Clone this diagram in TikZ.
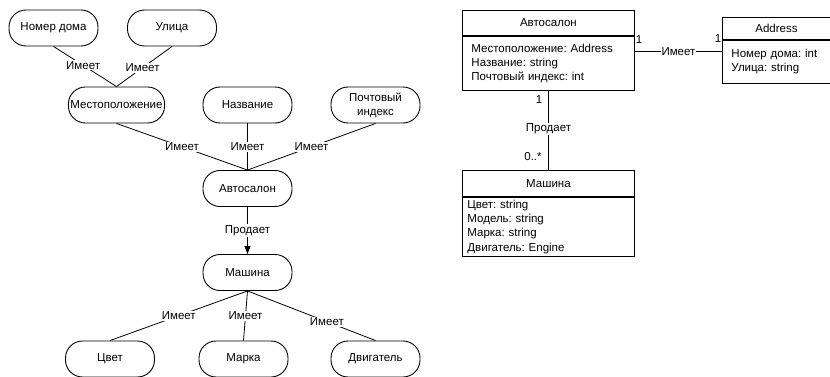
\documentclass[tikz,border=0pt]{standalone}
\usepackage{fontspec}
\setmainfont{Liberation Sans}
\usetikzlibrary{arrows.meta}
\frenchspacing
\begin{document}
\begin{tikzpicture}[x=1pt,y=-1pt,
  every node/.style={font=\fontsize{11.5}{14}\selectfont, inner sep=1pt},
  ent/.style={draw, line width=0.9pt, rounded corners=17pt, minimum width=89pt, minimum height=36pt, align=center, inner sep=2pt},
  rel/.style={fill=white, inner sep=1pt},
  conn/.style={line width=0.8pt},
  ctitle/.style={draw, line width=0.9pt, anchor=north west, inner sep=0pt},
  cbody/.style={draw, line width=0.9pt, anchor=north, align=left, inner sep=0pt},
  mult/.style={inner sep=0pt}
]
\useasboundingbox (0,0) rectangle (830,377);
\begin{scope}
\clip (0,0) rectangle (830,377);
% ---- left diagram ----
\node[ent] (nd) at (53.5,28) {Номер дома};
\node[ent] (ul) at (172,28) {Улица};
\node[ent] (loc) at (116.5,105) {Местоположение};
\node[ent] (naz) at (247.5,105) {Название};
\node[ent, font=\fontsize{11.5}{14}\selectfont] (pi) at (375.5,105) {Почтовый\\индекс};
\node[ent] (avt) at (247.5,188.5) {Автосалон};
\node[ent] (mash) at (247.5,272.5) {Машина};
\node[ent] (cv) at (110,359) {Цвет};
\node[ent] (mk) at (243.5,359) {Марка};
\node[ent] (dv) at (375.5,359) {Двигатель};

\draw[conn] (nd.south) -- (loc.north) node[rel, pos=0.47] {Имеет};
\draw[conn] (ul.south) -- (loc.north) node[rel, pos=0.53] {Имеет};
\draw[conn] (loc.south) -- (avt.north) node[rel, pos=0.5] {Имеет};
\draw[conn] (naz.south) -- (avt.north) node[rel, pos=0.5] {Имеет};
\draw[conn] (pi.south) -- (avt.north) node[rel, pos=0.5] {Имеет};
\draw[conn, -{Triangle[length=8pt,width=6pt]}] (avt.south) -- (mash.north) node[rel, pos=0.5] {Продает};
\draw[conn] (mash.south) -- (cv.north) node[rel, pos=0.5] {Имеет};
\draw[conn] (mash.south) -- (mk.north) node[rel, pos=0.5] {Имеет};
\draw[conn] (mash.south) -- (dv.north) node[rel, pos=0.62] {Имеет};

% ---- right diagram ----
\node[ctitle, minimum width=172pt, minimum height=25pt] (ca) at (462,10) {Автосалон};
\node[cbody, minimum width=172pt, minimum height=54pt, text width=154pt] (cab) at (ca.south) {Местоположение: Address\\Название: string\\Почтовый индекс: int};

\node[ctitle, minimum width=108pt, minimum height=22pt] (ad) at (722,17) {Address};
\node[cbody, minimum width=108pt, minimum height=43pt, text width=90pt] (adb) at (ad.south) {Номер дома: int\\Улица: string};

\node[ctitle, minimum width=172pt, minimum height=26pt] (mt) at (462,170) {Машина};
\node[cbody, minimum width=172pt, minimum height=59pt, text width=162pt, font=\fontsize{11.5}{14.3}\selectfont] (mtb) at (mt.south) {Цвет: string\\Модель: string\\Марка: string\\Двигатель: Engine};

\coordinate (aL) at ([yshift=12pt]cab.east);
\draw[conn] (aL) -- (aL -| adb.west) node[rel, midway] {Имеет};
\node[mult] (m1) at (639,40) {1};
\node[mult] (m2) at (718,39) {1};

\draw[conn] (cab.south) -- (mt.north) node[rel, pos=0.48] {Продает};
\node[mult] (m3) at (539,100) {1};
\node[mult] (m4) at (533,157) {0..*};
\end{scope}
\end{tikzpicture}
\end{document}
